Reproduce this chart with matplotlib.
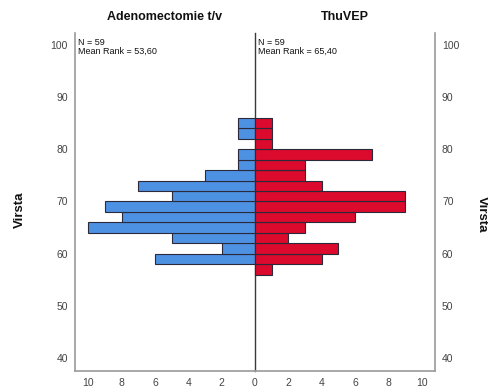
import matplotlib
matplotlib.use("Agg")
import matplotlib.pyplot as plt
import numpy as np

# bins of 2 years, lower edges from 56 to 84
bin_edges = [56, 58, 60, 62, 64, 66, 68, 70, 72, 74, 76, 78, 80, 82, 84]
adeno_counts = [0, 6, 2, 5, 10, 8, 9, 5, 7, 3, 1, 1, 0, 1, 1]
thuvep_counts = [1, 4, 5, 2, 3, 6, 9, 9, 4, 3, 3, 7, 1, 1, 1]

left_title = "Adenomectomie t/v"
right_title = "ThuVEP"
left_stats = "N = 59\nMean Rank = 53,60"
right_stats = "N = 59\nMean Rank = 65,40"
y_label = "Virsta"
y_ticks = [40, 50, 60, 70, 80, 90, 100]
x_ticks = [0, 2, 4, 6, 8, 10]

blue = "#4d91e3"
red = "#dc0a2c"
edge = "#2a2a3a"
spine_grey = "#9a9a9a"
txt = "#444444"

plt.rcParams['font.family'] = ['Liberation Sans', 'DejaVu Sans']

fig = plt.figure(figsize=(4.89, 3.90), dpi=100)
W, H = 489, 390
x0, xc, x1 = 75, 255, 435
ytop, ybot = 33, 371
axL = fig.add_axes([x0 / W, 1 - ybot / H, (xc - x0) / W, (ybot - ytop) / H])
axR = fig.add_axes([xc / W, 1 - ybot / H, (x1 - xc) / W, (ybot - ytop) / H])

axL.barh(bin_edges, adeno_counts, height=2, align='edge', color=blue,
         edgecolor=edge, linewidth=0.8)
axR.barh(bin_edges, thuvep_counts, height=2, align='edge', color=red,
         edgecolor=edge, linewidth=0.8)

for ax in (axL, axR):
    ax.set_ylim(37.5, 102.3)
    ax.set_xlim(0, 10.8)
    ax.set_yticks(y_ticks)
    ax.spines['top'].set_visible(False)
    ax.spines['bottom'].set_color(spine_grey)
    ax.spines['bottom'].set_linewidth(1.2)
    ax.tick_params(length=0, labelsize=7.5, labelcolor=txt, pad=5)
    ax.set_facecolor('none')

axL.invert_xaxis()
axL.set_xticks(x_ticks)
axL.spines['left'].set_color(spine_grey)
axL.spines['left'].set_linewidth(1.2)
axL.spines['right'].set_color('#3a3a3a')
axL.spines['right'].set_linewidth(1.0)

axR.set_xticks(x_ticks[1:])
axR.spines['left'].set_visible(False)
axR.spines['right'].set_color(spine_grey)
axR.spines['right'].set_linewidth(1.2)
axR.yaxis.tick_right()
axR.tick_params(axis='y', labelright=True, labelleft=False)

axL.set_title(left_title, fontsize=9, fontweight='bold', color='#111111', pad=9)
axR.set_title(right_title, fontsize=9, fontweight='bold', color='#111111', pad=9)

axL.text(0.015, 0.985, left_stats, transform=axL.transAxes, ha='left', va='top',
         fontsize=6.5, color='#111111', linespacing=1.0)
axR.text(0.015, 0.985, right_stats, transform=axR.transAxes, ha='left', va='top',
         fontsize=6.5, color='#111111', linespacing=1.0)

fig.text(20 / W, 1 - 210 / H, y_label, rotation=90, ha='center', va='center',
         fontsize=9.5, fontweight='bold', color='#111111')
fig.text(482 / W, 1 - 214 / H, y_label, rotation=270, ha='center', va='center',
         fontsize=9.5, fontweight='bold', color='#111111')

fig.savefig("out.png", dpi=100)
